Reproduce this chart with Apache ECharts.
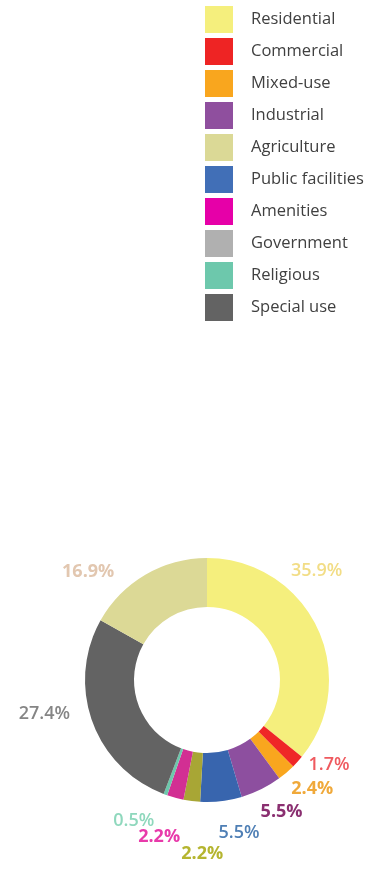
<!DOCTYPE html>
<html>
<head>
<meta charset="utf-8">
<script src="https://cdn.jsdelivr.net/npm/echarts@6/dist/echarts.min.js"></script>
<style>
  html, body { margin: 0; padding: 0; background: #fff; }
  #chart { width: 379px; height: 874px; }
</style>
</head>
<body>
<div id="chart"></div>
<script>
// legend order (as shown top-right)
const legendNames = ['Residential', 'Commercial', 'Mixed-use', 'Industrial', 'Agriculture',
    'Public facilities', 'Amenities', 'Government', 'Religious', 'Special use'];
const legendColors = ['#f5ef7d', '#ee2424', '#f9a61e', '#8f4f9e', '#dbd996',
    '#416fb7', '#e600a8', '#b0b0b0', '#6dc8ac', '#636363'];

// slice order, clockwise from 12 o'clock
const sliceNames = ['Residential', 'Commercial', 'Mixed-use', 'Industrial', 'Public facilities',
    'Government', 'Amenities', 'Religious', 'Special use', 'Agriculture'];
const sliceValues = [35.9, 1.7, 2.4, 5.5, 5.5, 2.2, 2.2, 0.5, 27.4, 16.9];
const sliceColors = ['#f5ef7d', '#ef2727', '#f9a61e', '#8d4f9f', '#3865ae',
    '#a8a635', '#d22f93', '#6dc8ac', '#636363', '#dcd996'];
const labelColors = ['#f2dd86', '#ef5a5f', '#f0a93a', '#8a2f70', '#4f7fb5',
    '#b5b530', '#e83aaa', '#8fd8bd', '#858585', '#e2c7b0'];
const labelWeights = ['600', '600', 'bold', 'bold', '600', 'bold', 'bold', '600', '600', 'bold'];
// nudge of each label from the default outside spot
const labelNudge = [[-42, -51], [-3, -5], [-8, 7], [-11, 12], [-9, 20],
    [38, 41], [13, 27], [-2, 15], [-6, -12], [-20, 7]];

const chart = echarts.init(document.getElementById('chart'));

const option = {
    animation: false,
    legend: {
        orient: 'vertical',
        left: 200,
        top: 1,
        itemWidth: 28,
        itemHeight: 27,
        itemGap: 5,
        icon: 'rect',
        selectedMode: false,
        textStyle: {
            fontFamily: 'Open Sans',
            fontSize: 16.5,
            color: '#404040',
            padding: [0, 0, 0, 13]
        },
        data: legendNames.map((n, i) => ({name: n, itemStyle: {color: legendColors[i]}}))
    },
    series: [{
        type: 'pie',
        center: [207, 680],
        radius: [73, 122],
        startAngle: 90,
        avoidLabelOverlap: false,
        label: {
            show: true,
            position: 'outside',
            fontFamily: 'Open Sans',
            fontSize: 18,
            formatter: p => p.value + '%'
        },
        labelLine: {show: false, length: 12, length2: 0},
        labelLayout: p => ({
            hideOverlap: false,
            dx: labelNudge[p.dataIndex][0],
            dy: labelNudge[p.dataIndex][1]
        }),
        data: sliceNames.map((n, i) => ({
            name: n,
            value: sliceValues[i],
            itemStyle: {color: sliceColors[i]},
            label: {color: labelColors[i], fontWeight: labelWeights[i]}
        }))
    }]
};

chart.setOption(option);
</script>
</body>
</html>
